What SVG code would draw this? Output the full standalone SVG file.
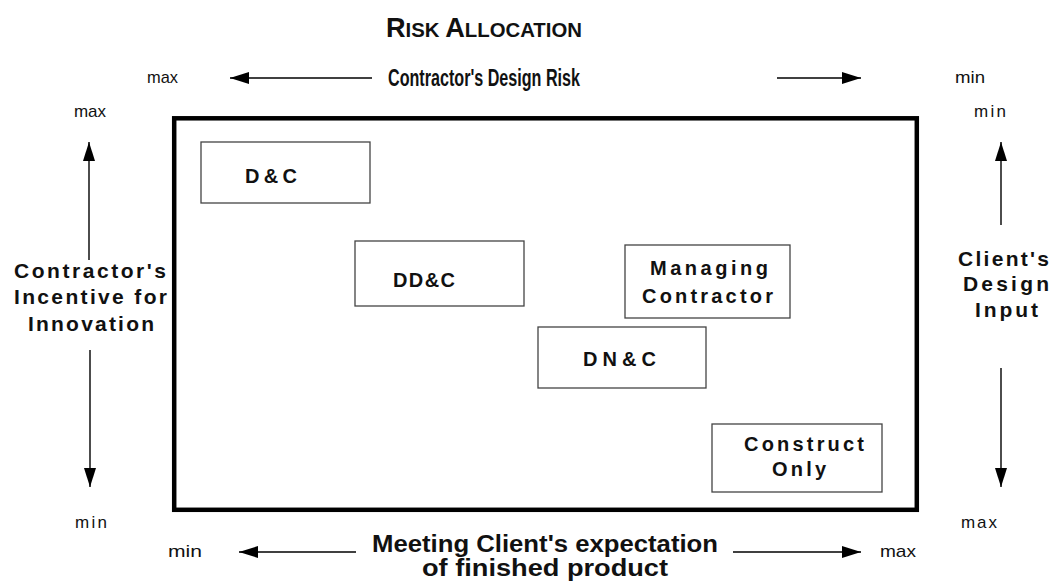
<svg xmlns="http://www.w3.org/2000/svg" width="1057" height="581" viewBox="0 0 1057 581">
<style>
  .box{fill:#fff;stroke:#444;stroke-width:1.3}
  .bt{font-family:"Liberation Sans",Arial,sans-serif;font-weight:bold;font-size:20px;fill:#111}
  .lbl{font-family:"Liberation Sans",Arial,sans-serif;font-weight:bold;font-size:21px;fill:#111}
  .ax{font-family:"Liberation Sans",Arial,sans-serif;font-weight:bold;font-size:23px;fill:#111}
  .mm{font-family:"Liberation Sans",Arial,sans-serif;font-size:17px;fill:#111}
  .arr{stroke:#000;stroke-width:1.4;fill:none;marker-end:url(#ah)}
  .frame{fill:none;stroke:#000;stroke-width:4.5}
</style>
<defs>
  <marker id="ah" markerUnits="userSpaceOnUse" markerWidth="20" markerHeight="12" refX="19" refY="6" orient="auto">
    <path d="M0,0 L19,6 L0,12 z" fill="#000"/>
  </marker>
</defs>

<g id="title">
  <text x="386" y="37" class="ax" textLength="196" lengthAdjust="spacingAndGlyphs"><tspan font-size="28">R</tspan><tspan font-size="21">ISK </tspan><tspan font-size="28">A</tspan><tspan font-size="21">LLOCATION</tspan></text>
</g>

<g id="frame">
  <rect x="174.2" y="118.3" width="742.6" height="391.5" class="frame"/>
</g>

<g id="connectors">
  <line x1="372" y1="78" x2="230" y2="78" class="arr"/>
  <line x1="777" y1="78" x2="861" y2="78" class="arr"/>
  <line x1="89" y1="260" x2="89" y2="142" class="arr"/>
  <line x1="1001" y1="225" x2="1001" y2="142" class="arr"/>
  <line x1="90" y1="350" x2="90" y2="487" class="arr"/>
  <line x1="1001" y1="368" x2="1001" y2="487" class="arr"/>
  <line x1="356" y1="552" x2="239" y2="552" class="arr"/>
  <line x1="733" y1="552" x2="861" y2="552" class="arr"/>
</g>

<g id="axis-top">
  <text x="147" y="83" class="mm" textLength="31" lengthAdjust="spacingAndGlyphs">max</text>
  <text x="388" y="86" class="ax" textLength="192" lengthAdjust="spacingAndGlyphs">Contractor's Design Risk</text>
  <text x="955" y="83" class="mm" textLength="30" lengthAdjust="spacingAndGlyphs">min</text>
</g>

<g id="axis-left">
  <text x="74" y="117" class="mm" textLength="32" lengthAdjust="spacing">max</text>
  <text x="14" y="278" class="lbl" textLength="152" lengthAdjust="spacing">Contractor's</text>
  <text x="14" y="304" class="lbl" textLength="153" lengthAdjust="spacing">Incentive for</text>
  <text x="28" y="331" class="lbl" textLength="126" lengthAdjust="spacing">Innovation</text>
  <text x="75" y="528" class="mm" textLength="32" lengthAdjust="spacing">min</text>
</g>

<g id="axis-right">
  <text x="974" y="117" class="mm" textLength="32" lengthAdjust="spacing">min</text>
  <text x="958" y="266" class="lbl" textLength="91" lengthAdjust="spacing">Client's</text>
  <text x="963" y="291" class="lbl" textLength="86" lengthAdjust="spacing">Design</text>
  <text x="975" y="317" class="lbl" textLength="63" lengthAdjust="spacing">Input</text>
  <text x="961" y="528" class="mm" textLength="36" lengthAdjust="spacing">max</text>
</g>

<g id="axis-bottom">
  <text x="168" y="557" class="mm" textLength="34" lengthAdjust="spacingAndGlyphs">min</text>
  <text x="372" y="552" class="ax" textLength="346" lengthAdjust="spacingAndGlyphs">Meeting Client's expectation</text>
  <text x="422" y="576" class="ax" textLength="246" lengthAdjust="spacingAndGlyphs">of finished product</text>
  <text x="880" y="557" class="mm" textLength="36" lengthAdjust="spacingAndGlyphs">max</text>
</g>

<g id="node-dc">
  <rect x="201" y="142" width="169" height="61" class="box"/>
  <text x="245" y="183" class="bt" textLength="52" lengthAdjust="spacing">D&amp;C</text>
</g>
<g id="node-ddc">
  <rect x="355" y="241" width="169" height="65" class="box"/>
  <text x="393" y="287" class="bt" textLength="62" lengthAdjust="spacing">DD&amp;C</text>
</g>
<g id="node-mc">
  <rect x="625" y="245" width="165" height="73" class="box"/>
  <text x="650" y="275" class="bt" textLength="118" lengthAdjust="spacing">Managing</text>
  <text x="642" y="303" class="bt" textLength="131" lengthAdjust="spacing">Contractor</text>
</g>
<g id="node-dnc">
  <rect x="538" y="327" width="168" height="61" class="box"/>
  <text x="583" y="366" class="bt" textLength="73" lengthAdjust="spacing">DN&amp;C</text>
</g>
<g id="node-co">
  <rect x="712" y="424" width="170" height="68" class="box"/>
  <text x="744" y="451" class="bt" textLength="120" lengthAdjust="spacing">Construct</text>
  <text x="772" y="476" class="bt" textLength="54" lengthAdjust="spacing">Only</text>
</g>
</svg>
